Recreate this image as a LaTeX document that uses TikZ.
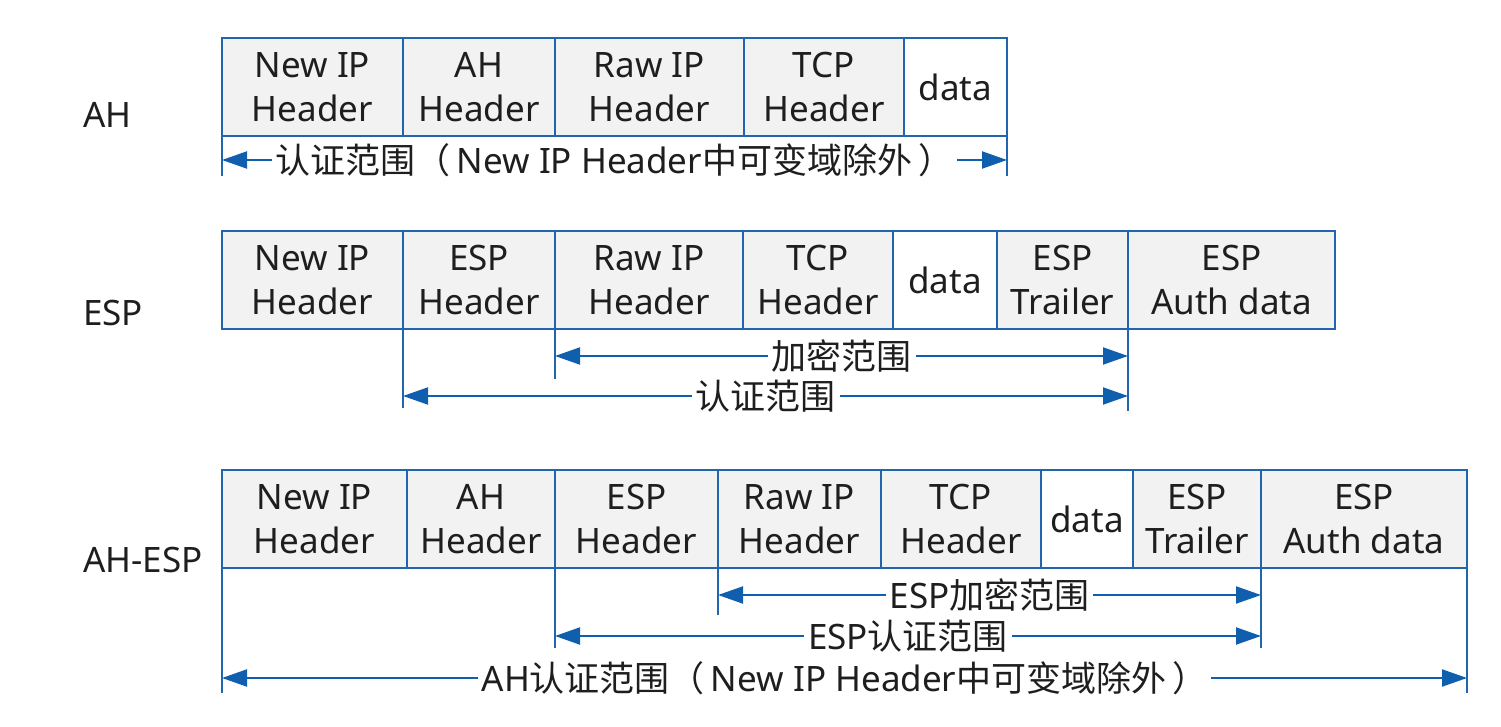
\documentclass[tikz,border=0pt]{standalone}
\usepackage{fontspec}
\setmainfont{Noto Sans}
\newfontfamily\cjk{Noto Sans CJK SC}
\usetikzlibrary{arrows.meta}
\definecolor{bordblue}{HTML}{2166AC}
\definecolor{arrblue}{HTML}{0F5FAE}
\definecolor{cellgray}{HTML}{F2F2F2}
\definecolor{txt}{HTML}{1E1E1E}
\newcommand{\lp}{{\cjk （}\hspace{6pt}}
\newcommand{\rp}{\hspace{6pt}{\cjk ）}}
\tikzset{
  cell/.style={draw=bordblue, line width=2.4pt, fill=cellgray, anchor=north west,
    minimum height=98pt, inner sep=0pt, outer sep=0pt, align=center, text=txt,
    font=\fontsize{35}{44}\selectfont},
  datacell/.style={cell, fill=white},
  tick/.style={draw=bordblue, line width=2.2pt},
  dim/.style={draw=arrblue, line width=2pt,
    {Triangle[length=25pt,width=17pt]}-{Triangle[length=25pt,width=17pt]}},
  lab/.style={fill=white, inner xsep=4pt, inner ysep=0pt, text=txt,
    font=\fontsize{35}{44}\selectfont},
  side/.style={anchor=west, text=txt, font=\fontsize{35}{44}\selectfont, inner sep=0pt}
}
\begin{document}
\begin{tikzpicture}[x=1pt,y=-1pt]
\useasboundingbox (0,0) rectangle (1501,727);
% ---------- AH ----------
\node[side] (lAH) at (83,115) {AH};
\node[cell, minimum width=181pt] (a1) at (222,38) {New IP\\Header};
\node[cell, minimum width=152pt] (a2) at (403,38) {AH\\Header};
\node[cell, minimum width=189pt] (a3) at (555,38) {Raw IP\\Header};
\node[cell, minimum width=160pt] (a4) at (744,38) {TCP\\Header};
\node[datacell, minimum width=103pt] (a5) at (904,38) {data};
\coordinate (aL) at (222,176);
\coordinate (aR) at (1007,176);
\draw[tick] (a1.south west) -- (aL);
\draw[tick] (a5.south east) -- (aR);
\coordinate (aL1) at (222,160);
\coordinate (aR1) at (1007,160);
\draw[dim] (aL1) -- node[lab] {{\cjk 认证范围}\lp New IP Header{\cjk 中可变域除外}\rp} (aR1);
% ---------- ESP ----------
\node[side] (lESP) at (83,313) {ESP};
\node[cell, minimum width=181pt] (e1) at (222,231) {New IP\\Header};
\node[cell, minimum width=152pt] (e2) at (403,231) {ESP\\Header};
\node[cell, minimum width=188pt] (e3) at (555,231) {Raw IP\\Header};
\node[cell, minimum width=150pt] (e4) at (743,231) {TCP\\Header};
\node[datacell, minimum width=104pt] (e5) at (893,231) {data};
\node[cell, minimum width=131pt] (e6) at (997,231) {ESP\\Trailer};
\node[cell, minimum width=207pt] (e7) at (1128,231) {ESP\\Auth data};
\coordinate (eT1) at (403,408);
\coordinate (eT2) at (555,379);
\coordinate (eT3) at (1128,411);
\draw[tick] (e2.south west) -- (eT1);
\draw[tick] (e3.south west) -- (eT2);
\draw[tick] (e6.south east) -- (eT3);
\coordinate (eA1) at (555,356);
\coordinate (eB1) at (1128,356);
\coordinate (eA2) at (403,396);
\coordinate (eB2) at (1128,396);
\draw[dim] (eA1) -- node[lab] {\cjk 加密范围} (eB1);
\draw[dim] (eA2) -- node[lab] {\cjk 认证范围} (eB2);
% ---------- AH-ESP ----------
\node[side] (lAHESP) at (83,560) {AH-ESP};
\node[cell, minimum width=185pt] (h1) at (222,470) {New IP\\Header};
\node[cell, minimum width=148pt] (h2) at (407,470) {AH\\Header};
\node[cell, minimum width=163pt] (h3) at (555,470) {ESP\\Header};
\node[cell, minimum width=163pt] (h4) at (718,470) {Raw IP\\Header};
\node[cell, minimum width=160pt] (h5) at (881,470) {TCP\\Header};
\node[datacell, minimum width=92pt] (h6) at (1041,470) {data};
\node[cell, minimum width=128pt] (h7) at (1133,470) {ESP\\Trailer};
\node[cell, minimum width=206pt] (h8) at (1261,470) {ESP\\Auth data};
\coordinate (hT1) at (222,693);
\coordinate (hT2) at (555,648);
\coordinate (hT3) at (718,615);
\coordinate (hT4) at (1261,648);
\coordinate (hT5) at (1467,693);
\draw[tick] (h1.south west) -- (hT1);
\draw[tick] (h3.south west) -- (hT2);
\draw[tick] (h4.south west) -- (hT3);
\draw[tick] (h7.south east) -- (hT4);
\draw[tick] (h8.south east) -- (hT5);
\coordinate (hA1) at (718,595);
\coordinate (hB1) at (1261,595);
\coordinate (hA2) at (555,636);
\coordinate (hB2) at (1261,636);
\coordinate (hA3) at (222,678);
\coordinate (hB3) at (1467,678);
\draw[dim] (hA1) -- node[lab] {ESP{\cjk 加密范围}} (hB1);
\draw[dim] (hA2) -- node[lab] {ESP{\cjk 认证范围}} (hB2);
\draw[dim] (hA3) -- node[lab] {AH{\cjk 认证范围}\lp New IP Header{\cjk 中可变域除外}\rp} (hB3);
\end{tikzpicture}
\end{document}
